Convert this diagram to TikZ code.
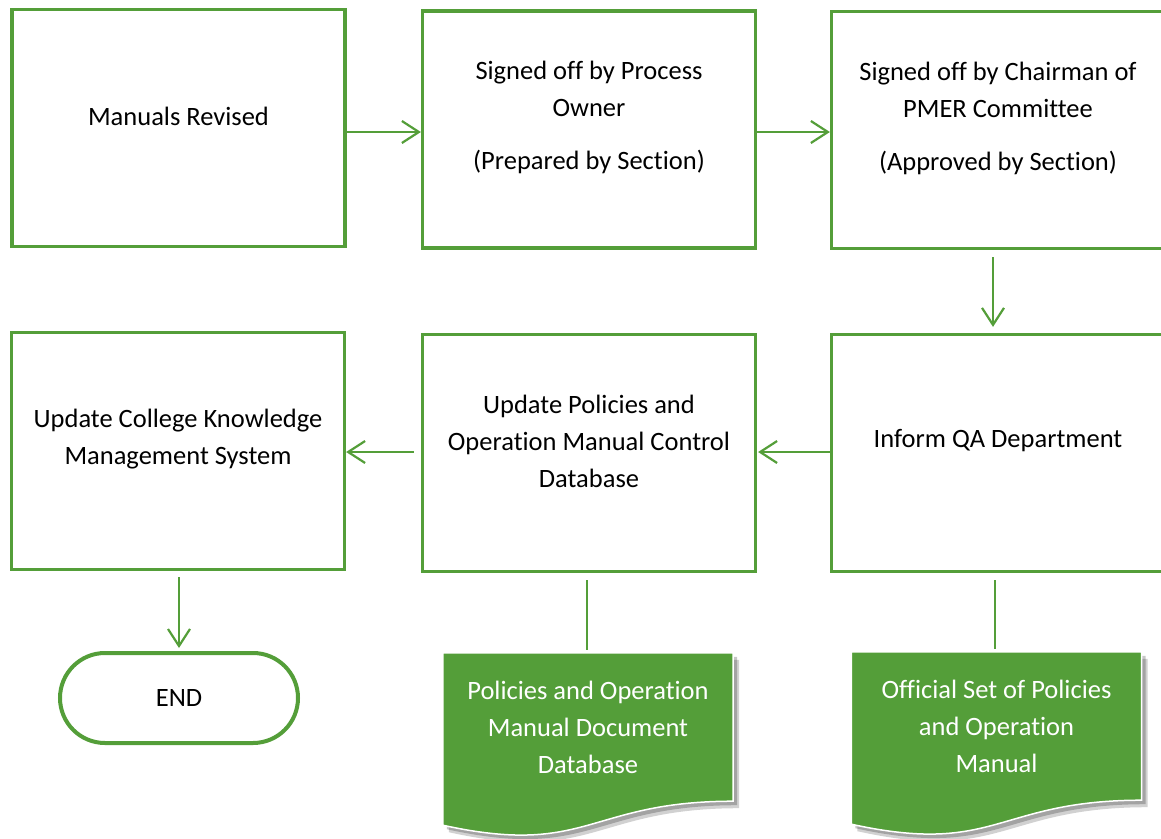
\documentclass[tikz,border=0pt]{standalone}
\usepackage{fontspec}
\setmainfont{Carlito}[Ligatures=NoCommon]
\usepackage{xcolor}
\usetikzlibrary{arrows.meta,positioning}

\definecolor{flowgreen}{RGB}{84,158,57}

\tikzset{
  stepbox/.style={draw=flowgreen, line width=3.2pt, minimum width=333pt, minimum height=237pt, inner sep=0pt},
  steptext/.style={align=center, inner sep=0pt, font=\fontsize{26.5}{37}\selectfont},
  endbox/.style={draw=flowgreen, line width=4pt, rounded corners=45pt, minimum width=238pt, minimum height=90pt, font=\fontsize{26.5}{37}\selectfont},
  docnode/.style={minimum width=290pt, minimum height=148pt, inner sep=0pt, align=center, text=white, font=\fontsize{26.5}{37}\selectfont},
  flowarrow/.style={draw=flowgreen, line width=2.2pt, -{Straight Barb[length=17pt,width=22pt,line width=2.2pt]}},
  flowline/.style={draw=flowgreen, line width=2.2pt},
}

\begin{document}
\begin{tikzpicture}[x=1pt,y=-1pt]
\useasboundingbox (0,0) rectangle (1161,838);

%Shape: Rectangle (top row)
\node[stepbox] (b1) at (178.5,128) {};
\node[stepbox] (b2) at (589,129.5) {};
\node[stepbox] (b3) at (998,130) {};
%Shape: Rectangle (middle row)
\node[stepbox] (b4) at (998,453) {};
\node[stepbox] (b5) at (589,453) {};
\node[stepbox] (b6) at (178,451) {};
%Shape: Terminator
\node[endbox] (end) at (179,698) {END};

% Text Node
\node[steptext] (t1) at ([yshift=12pt]b1.center) {Manuals Revised};
\node[steptext] (t2) at ([yshift=12pt]b2.center) {Signed off by Process\\Owner\\[16pt](Prepared by Section)};
\node[steptext] (t3) at ([yshift=12pt]b3.center) {Signed off by Chairman of\\PMER Committee\\[16pt](Approved by Section)};
\node[steptext] (t4) at ([yshift=12pt]b4.center) {Inform QA Department};
\node[steptext] (t5) at ([yshift=12pt]b5.center) {Update Policies and\\Operation Manual Control\\Database};
\node[steptext] (t6) at ([yshift=12pt]b6.center) {Update College Knowledge\\Management System};

%Shape: Document
\node[docnode] (d1) at (588,727) {};
\node[docnode] (d2) at (996.5,726) {};
\foreach \d in {d1,d2}{
  \fill[black, opacity=0.18] ([shift={(6pt,-7pt)}]\d.north west) -- ([shift={(6pt,-7pt)}]\d.north east) -- ([shift={(6pt,-7pt)}]\d.south east) .. controls ([shift={(6pt,-7pt)}]\d.south) and ([shift={(6pt,-63pt)}]\d.south) .. ([shift={(6pt,-31pt)}]\d.south west) -- cycle;
  \fill[black, opacity=0.22] ([shift={(4pt,-4pt)}]\d.north west) -- ([shift={(4pt,-4pt)}]\d.north east) -- ([shift={(4pt,-4pt)}]\d.south east) .. controls ([shift={(4pt,-4pt)}]\d.south) and ([shift={(4pt,-60pt)}]\d.south) .. ([shift={(4pt,-28pt)}]\d.south west) -- cycle;
  \fill[flowgreen, draw=white, line width=1.5pt] (\d.north west) -- (\d.north east) -- (\d.south east) .. controls (\d.south) and ([yshift=-56pt]\d.south) .. ([yshift=-24pt]\d.south west) -- cycle;
}
\node[docnode] (dt1) at (d1.center) {Policies and Operation\\Manual Document\\Database};
\node[docnode] (dt2) at (d2.center) {Official Set of Policies\\and Operation\\Manual};

%Straight Lines
\draw[flowarrow] ([yshift=-4pt]b1.east) -- ([yshift=-4pt]b1.east -| b2.west);
\draw[flowarrow] ([yshift=-2.5pt]b2.east) -- ([yshift=-2.5pt]b2.east -| b3.west);
\draw[flowarrow, shorten <=7pt, shorten >=6pt] ([xshift=-5pt]b3.south) -- ([xshift=-5pt]b4.north);
\draw[flowarrow, shorten >=1pt] ([yshift=1pt]b4.west) -- ([yshift=1pt]b5.east);
\draw[flowarrow, shorten <=7pt] ([yshift=1pt]b5.west) -- ([yshift=1pt]b5.west -| b6.east);
\draw[flowarrow, shorten <=6pt, shorten >=3pt] ([xshift=1pt]b6.south) -- ([xshift=1pt]b6.south |- end.north);
\draw[flowline, shorten <=7pt, shorten >=3pt] ([xshift=-2pt]b5.south) -- ([xshift=-2pt]b5.south |- d1.north);
\draw[flowline, shorten <=7pt, shorten >=3pt] ([xshift=-3pt]b4.south) -- ([xshift=-3pt]b4.south |- d2.north);
\end{tikzpicture}
\end{document}
